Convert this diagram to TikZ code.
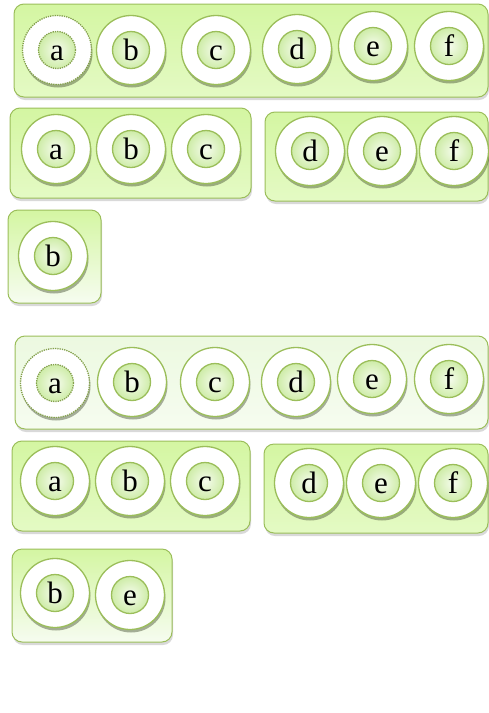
\documentclass[tikz,border=0pt]{standalone}
\usepackage{fontspec}
\setmainfont{Liberation Serif}
\usepackage{tikz}
\usetikzlibrary{
	positioning,
	shadows,
	calc
}
\definecolor{LeafEdge}{RGB}{155,190,90}
\definecolor{LeafTop}{RGB}{212,246,162}
\definecolor{LeafBot}{RGB}{228,250,196}
\definecolor{PaleTop}{RGB}{236,249,224}
\definecolor{PaleBot}{RGB}{246,252,240}
\definecolor{CoreIn}{RGB}{246,252,238}
\definecolor{CoreOut}{RGB}{206,236,168}

\tikzset{
	tray/.style={
		rectangle,
		rounded corners=10pt,
		draw=LeafEdge,
		line width=1pt,
		top color=LeafTop,
		bottom color=LeafBot,
		drop shadow={shadow xshift=1pt,shadow yshift=-3pt,opacity=0.3}
	},
	pale tray/.style={
		tray,
		top color=PaleTop,
		bottom color=PaleBot
	},
	disc/.style={
		circle,
		draw=LeafEdge,
		line width=1.3pt,
		fill=white,
		minimum size=69pt,
		inner sep=0pt,
		drop shadow={shadow xshift=1pt,shadow yshift=-3pt,opacity=0.4,fill=black!70!LeafEdge}
	},
	ghost disc/.style={
		disc,
		draw=LeafEdge!85!black,
		densely dotted
	},
	core/.style={
		circle,
		draw=LeafEdge,
		line width=1.3pt,
		inner color=CoreIn,
		outer color=CoreOut,
		minimum size=37pt,
		inner sep=0pt,
		text height=21pt,
		text depth=0pt,
		font=\fontsize{31}{31}\selectfont
	},
	ghost core/.style={
		core,
		draw=LeafEdge!85!black,
		densely dotted
	}
}

\begin{document}
\begin{tikzpicture}[x=1pt,y=-1pt]
	
	\useasboundingbox (0,0) rectangle (489,713);
	
	% trays
	\node[tray,minimum width=474pt,minimum height=93pt] (TRAYALL) at (251,50.5) {};
	\node[tray,minimum width=241pt,minimum height=90pt] (TRAYABC) at (130.5,153) {};
	\node[tray,minimum width=223pt,minimum height=89pt] (TRAYDEF) at (376.5,156.5) {};
	\node[tray,minimum width=93pt,minimum height=93pt,bottom color=PaleBot] (TRAYB) at (54.5,256.5) {};
	
	\node[pale tray,minimum width=473pt,minimum height=93pt] (TRAYALLX) at (251.5,382.5) {};
	\node[tray,minimum width=238pt,minimum height=90pt] (TRAYABCX) at (131,486) {};
	\node[tray,minimum width=224pt,minimum height=89pt] (TRAYDEFX) at (376,488.5) {};
	\node[tray,minimum width=160pt,minimum height=93pt,bottom color=PaleBot] (TRAYBE) at (92,595.5) {};
	
	% first row
	\node[ghost disc] (A1) at (57,50) {};
	\node[ghost core] (A1C) at (A1) {a};
	\node[disc] (B1) at (131,50) {};
	\node[core] (B1C) at (B1) {b};
	\node[disc] (C1) at (216,50) {};
	\node[core] (C1C) at (C1) {c};
	\node[disc] (D1) at (297,49) {};
	\node[core] (D1C) at (D1) {d};
	\node[disc] (E1) at (373,46) {};
	\node[core] (E1C) at (E1) {e};
	\node[disc] (F1) at (449,46) {};
	\node[core] (F1C) at (F1) {f};
	
	% second row
	\node[disc] (A2) at (56,149) {};
	\node[core] (A2C) at (A2) {a};
	\node[disc] (B2) at (131,149) {};
	\node[core] (B2C) at (B2) {b};
	\node[disc] (C2) at (206,149) {};
	\node[core] (C2C) at (C2) {c};
	\node[disc] (D2) at (310,151) {};
	\node[core] (D2C) at (D2) {d};
	\node[disc] (E2) at (382,151) {};
	\node[core] (E2C) at (E2) {e};
	\node[disc] (F2) at (454,151) {};
	\node[core] (F2C) at (F2) {f};
	
	% third row
	\node[disc] (B3) at (53,256) {};
	\node[core] (B3C) at (B3) {b};
	
	% fourth row
	\node[ghost disc] (A4) at (55,383) {};
	\node[ghost core] (A4C) at (A4) {a};
	\node[disc] (B4) at (132,382) {};
	\node[core] (B4C) at (B4) {b};
	\node[disc] (C4) at (215,382) {};
	\node[core] (C4C) at (C4) {c};
	\node[disc] (D4) at (296,382) {};
	\node[core] (D4C) at (D4) {d};
	\node[disc] (E4) at (372,379) {};
	\node[core] (E4C) at (E4) {e};
	\node[disc] (F4) at (449,379) {};
	\node[core] (F4C) at (F4) {f};
	
	% fifth row
	\node[disc] (A5) at (55,481) {};
	\node[core] (A5C) at (A5) {a};
	\node[disc] (B5) at (130,481) {};
	\node[core] (B5C) at (B5) {b};
	\node[disc] (C5) at (205,481) {};
	\node[core] (C5C) at (C5) {c};
	\node[disc] (D5) at (309,483) {};
	\node[core] (D5C) at (D5) {d};
	\node[disc] (E5) at (381,483) {};
	\node[core] (E5C) at (E5) {e};
	\node[disc] (F5) at (453,483) {};
	\node[core] (F5C) at (F5) {f};
	
	% sixth row
	\node[disc] (B6) at (55,593) {};
	\node[core] (B6C) at (B6) {b};
	\node[disc] (E6) at (130,595) {};
	\node[core] (E6C) at (E6) {e};
	
\end{tikzpicture}
\end{document}
